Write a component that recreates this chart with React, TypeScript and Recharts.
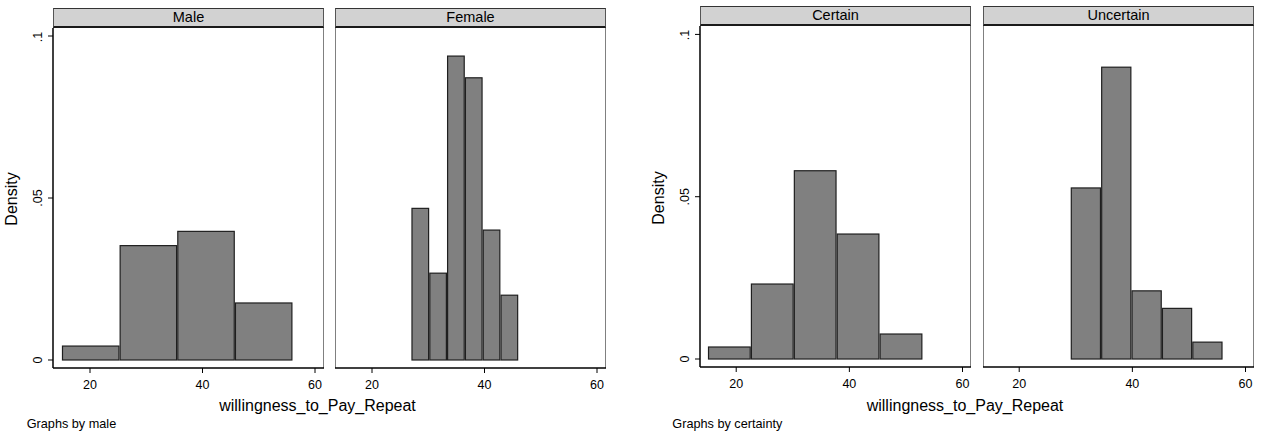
import React from "react";
import { ComposedChart, XAxis, YAxis, ReferenceArea, Line } from "recharts";

const FONT = "'Liberation Sans', Arial, Helvetica, sans-serif";

// histogram bins (edges) and densities
const maleEdges = [15, 25.25, 35.5, 45.75, 56];
const maleDensity = [0.0043, 0.0353, 0.0397, 0.0176];

const femaleEdges = [27, 30.17, 33.33, 36.5, 39.67, 42.83, 46];
const femaleDensity = [0.0468, 0.0268, 0.0938, 0.0871, 0.0401, 0.02];

const certainEdges = [15, 22.58, 30.17, 37.75, 45.33, 52.92];
const certainDensity = [0.0037, 0.0231, 0.058, 0.0385, 0.0077];

const uncertainEdges = [29.1, 34.47, 39.84, 45.21, 50.58, 55.95];
const uncertainDensity = [0.0527, 0.0899, 0.021, 0.0156, 0.0052];

const xTicks = [20, 40, 60];
const yTicks = [0, 0.05, 0.1];
const yTickLabels = ["0", ".05", ".1"];

const PANEL_W = 271;
const YAXIS_W = 53;
const XAXIS_H = 30;
const BAR_GAP = 0.6; // stata leaves a hairline between bars

const YTick = (p: any) => {
  const i = yTicks.indexOf(p.payload.value);
  return (
    <text
      x={p.x}
      y={p.y}
      transform={`rotate(-90 ${p.x} ${p.y})`}
      textAnchor="middle"
      fontSize={12.5}
      fontFamily={FONT}
      fill="#000"
    >
      {yTickLabels[i]}
    </text>
  );
};

const BarRect = (p: any) => (
  <rect
    x={p.x + BAR_GAP}
    y={p.y}
    width={Math.max(0, p.width - 2 * BAR_GAP)}
    height={p.height}
    fill="#808080"
    stroke="#1f1f1f"
    strokeWidth={1.2}
  />
);

interface PanelProps {
  title: string;
  left: number;
  headTop: number;
  plotTop: number;
  plotBottom: number;
  edges: number[];
  density: number[];
  withY: boolean;
  xDomain: [number, number];
  yDomain: [number, number];
}

function Panel({ title, left, headTop, plotTop, plotBottom, edges, density, withY, xDomain, yDomain }: PanelProps) {
  const plotH = plotBottom - plotTop;
  const bins = density.map((d, i) => ({
    lo: edges[i],
    hi: edges[i + 1],
    mid: (edges[i] + edges[i + 1]) / 2,
    density: d,
  }));
  const chartLeft = withY ? left - YAXIS_W : left;
  const chartW = withY ? PANEL_W + YAXIS_W : PANEL_W;

  return (
    <>
      <div
        style={{
          position: "absolute",
          left,
          top: headTop,
          width: PANEL_W,
          height: plotTop - headTop,
          boxSizing: "border-box",
          background: "#d2d2d2",
          borderTop: "1px solid #333",
          borderLeft: "1px solid #555",
          borderRight: "1px solid #555",
          borderBottom: "2px solid #1a1a1a",
          textAlign: "center",
          fontFamily: FONT,
          fontSize: 14.5,
          lineHeight: `${plotTop - headTop - 3}px`,
          color: "#000",
        }}
      >
        {title}
      </div>
      <div
        style={{
          position: "absolute",
          left,
          top: plotTop,
          width: PANEL_W,
          height: plotH,
          boxSizing: "border-box",
          borderLeft: withY ? "none" : "1px solid #808080",
          borderRight: "1px solid #808080",
        }}
      />
      <div style={{ position: "absolute", left: chartLeft, top: plotTop }}>
        <ComposedChart
          width={chartW}
          height={plotH + XAXIS_H}
          data={bins}
          margin={{ top: 0, right: 0, bottom: 0, left: 0 }}
        >
          <XAxis
            type="number"
            dataKey="mid"
            domain={xDomain}
            ticks={xTicks}
            allowDataOverflow
            height={XAXIS_H}
            tickSize={5}
            tickMargin={7}
            axisLine={{ stroke: "#000", strokeWidth: 1.5 }}
            tickLine={{ stroke: "#000" }}
            tick={{ fill: "#000", fontSize: 12.5, fontFamily: FONT }}
          />
          <YAxis
            type="number"
            domain={yDomain}
            ticks={yTicks}
            allowDataOverflow
            hide={!withY}
            width={YAXIS_W}
            tickSize={5}
            tickMargin={6}
            axisLine={{ stroke: "#000", strokeWidth: 1.5 }}
            tickLine={{ stroke: "#000" }}
            tick={<YTick />}
          />
          {bins.map((b) => (
            <ReferenceArea
              key={b.lo}
              x1={b.lo}
              x2={b.hi}
              y1={0}
              y2={b.density}
              shape={<BarRect />}
            />
          ))}
          <Line dataKey="density" stroke="none" dot={false} activeDot={false} isAnimationActive={false} />
        </ComposedChart>
      </div>
    </>
  );
}

export default function App() {
  const leftY: [number, number] = [-0.00247, 0.10247];
  const rightY: [number, number] = [-0.00246, 0.10259];
  const leftX: [number, number] = [13.42, 61.6];
  const rightX: [number, number] = [13.6, 61.5];

  return (
    <div style={{ position: "absolute", left: 0, top: 0, width: 1264, height: 436, background: "#fff" }}>
      <Panel title="Male" left={53} headTop={8} plotTop={28} plotBottom={368}
        edges={maleEdges} density={maleDensity} withY xDomain={leftX} yDomain={leftY} />
      <Panel title="Female" left={335} headTop={8} plotTop={28} plotBottom={368}
        edges={femaleEdges} density={femaleDensity} withY={false} xDomain={leftX} yDomain={leftY} />
      <Panel title="Certain" left={700} headTop={6} plotTop={26} plotBottom={367}
        edges={certainEdges} density={certainDensity} withY xDomain={rightX} yDomain={rightY} />
      <Panel title="Uncertain" left={983} headTop={6} plotTop={26} plotBottom={367}
        edges={uncertainEdges} density={uncertainDensity} withY={false} xDomain={rightX} yDomain={rightY} />

      <svg width={1264} height={436} style={{ position: "absolute", left: 0, top: 0, pointerEvents: "none" }}>
        <g fontFamily={FONT} fill="#000">
          <text x={17} y={199} fontSize={16} textAnchor="middle" transform="rotate(-90 17 199)">Density</text>
          <text x={664} y={198} fontSize={16} textAnchor="middle" transform="rotate(-90 664 198)">Density</text>
          <text x={317.5} y={410.5} fontSize={16} textAnchor="middle">willingness_to_Pay_Repeat</text>
          <text x={965} y={410.5} fontSize={16} textAnchor="middle">willingness_to_Pay_Repeat</text>
          <text x={26.7} y={428.3} fontSize={12.7}>Graphs by male</text>
          <text x={672.3} y={428.3} fontSize={12.7}>Graphs by certainty</text>
        </g>
      </svg>
    </div>
  );
}
